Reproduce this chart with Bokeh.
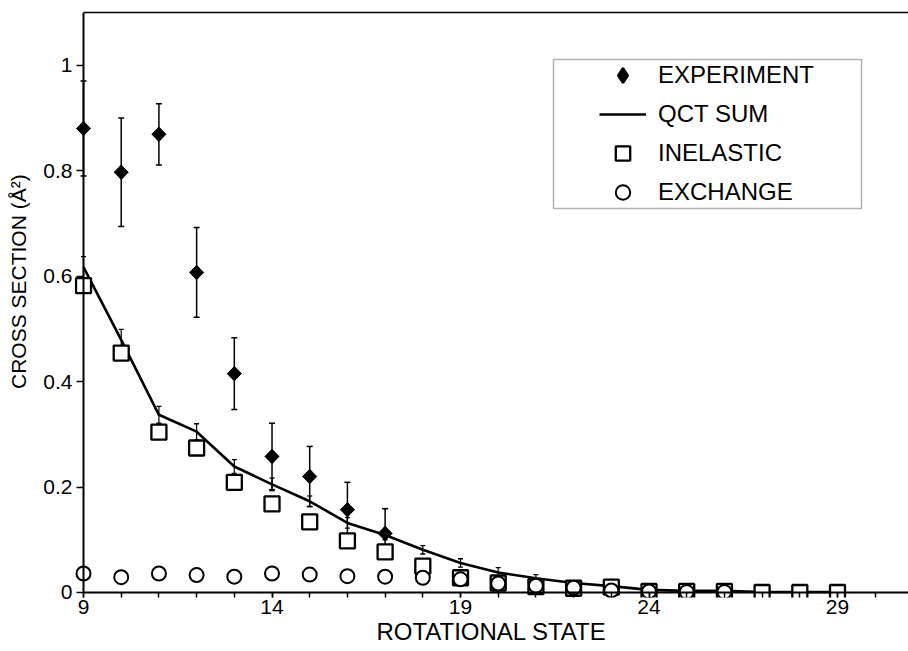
import numpy as np
from bokeh.plotting import figure
from bokeh.models import (ColumnDataSource, Whisker, TeeHead, FixedTicker, LinearAxis,
                          Legend, LegendItem, BoxAnnotation, Range1d, CustomJSTickFormatter)
from bokeh.embed import file_html
from bokeh.resources import INLINE

# ---------------- data ----------------
exp_state = [9, 10, 11, 12, 13, 14, 15, 16, 17]
exp_value = [0.880, 0.797, 0.869, 0.607, 0.415, 0.258, 0.220, 0.157, 0.112]
exp_err = [0.090, 0.103, 0.058, 0.085, 0.068, 0.063, 0.057, 0.052, 0.047]

qct_state = [9, 10, 11, 12, 13, 14, 15, 16, 17, 18, 19, 20, 21, 22, 23, 24, 25, 26, 27, 28, 29]
qct_sum = [0.617, 0.479, 0.337, 0.305, 0.239, 0.205, 0.173, 0.132, 0.109, 0.081, 0.056,
           0.038, 0.027, 0.018, 0.012, 0.005, 0.003, 0.003, 0.001, 0.001, 0.001]
qct_err_state = [9, 10, 11, 12, 13, 14, 15, 16, 17, 18, 19, 20, 21]
qct_err = [0.020, 0.020, 0.016, 0.015, 0.013, 0.012, 0.010, 0.010, 0.009, 0.008, 0.008, 0.009, 0.007]

inel_state = [9, 10, 11, 12, 13, 14, 15, 16, 17, 18, 19, 20, 21, 22, 23, 24, 25, 26, 27, 28, 29]
inelastic = [0.582, 0.454, 0.304, 0.274, 0.209, 0.168, 0.134, 0.098, 0.077, 0.050, 0.028,
             0.018, 0.011, 0.008, 0.010, 0.002, 0.002, 0.002, 0.000, 0.000, 0.000]

exch_state = [9, 10, 11, 12, 13, 14, 15, 16, 17, 18, 19, 20, 21, 22, 23, 24, 25, 26]
exchange = [0.036, 0.029, 0.036, 0.033, 0.030, 0.036, 0.034, 0.031, 0.030, 0.028, 0.025,
            0.017, 0.013, 0.009, 0.004, 0.002, 0.001, 0.001]

x_major = [9, 14, 19, 24, 29]
x_minor = list(range(9, 31))
y_major = [0, 0.2, 0.4, 0.6, 0.8, 1.0]

x_title = "ROTATIONAL STATE"
y_title = "CROSS SECTION (Å²)"

FONT = "Liberation Sans"

# ---------------- figure ----------------
p = figure(width=908, height=651, output_backend="svg", toolbar_location=None,
           x_range=Range1d(8.761, 30.883), y_range=Range1d(-0.0095, 1.1),
           min_border_left=74, min_border_right=0, min_border_top=12, min_border_bottom=54,
           background_fill_color="white", border_fill_color="white")
p.outline_line_color = None
p.xgrid.visible = False
p.ygrid.visible = False

blank = CustomJSTickFormatter(code="return ''")

# bottom axis: labels + title only (frame edge)
xa = p.xaxis[0]
xa.ticker = FixedTicker(ticks=x_major, minor_ticks=[])
xa.axis_line_color = None
xa.major_tick_line_color = None
xa.minor_tick_line_color = None
xa.major_tick_out = 0
xa.major_tick_in = 0
xa.minor_tick_out = 0
xa.minor_tick_in = 0
xa.major_label_standoff = 2
xa.major_label_text_font = FONT
xa.major_label_text_font_size = "21px"
xa.major_label_text_color = "black"
xa.axis_label = x_title
xa.axis_label_standoff = 1
xa.axis_label_text_font = FONT
xa.axis_label_text_font_size = "24px"
xa.axis_label_text_font_style = "normal"
xa.axis_label_text_color = "black"

# left axis: labels + title only (frame edge)
ya = p.yaxis[0]
ya.ticker = FixedTicker(ticks=y_major, minor_ticks=[])
ya.formatter = CustomJSTickFormatter(code="return tick.toFixed(1).replace(/\\.0$/, '')")
ya.axis_line_color = None
ya.major_tick_line_color = None
ya.minor_tick_line_color = None
ya.major_tick_out = 0
ya.major_tick_in = 0
ya.minor_tick_out = 0
ya.minor_tick_in = 0
ya.major_label_standoff = 2
ya.major_label_text_font = FONT
ya.major_label_text_font_size = "21px"
ya.major_label_text_color = "black"
ya.axis_label = "\u00a0" * 8 + y_title
ya.axis_label_standoff = 10
ya.axis_label_text_font = FONT
ya.axis_label_text_font_size = "21px"
ya.axis_label_text_font_style = "normal"
ya.axis_label_text_color = "black"

# axis lines + ticks crossing at (9, 0)
x_line = LinearAxis(ticker=FixedTicker(ticks=x_major, minor_ticks=x_minor), fixed_location=0,
                    bounds=(9, 31), axis_line_width=2, axis_line_color="black",
                    major_tick_in=7, major_tick_out=0, minor_tick_in=7, minor_tick_out=0,
                    major_tick_line_width=1.5, minor_tick_line_width=1.5,
                    major_tick_line_color="black", minor_tick_line_color="black",
                    formatter=blank, major_label_text_font_size="10px", major_label_standoff=0)
p.add_layout(x_line, "above")

y_line = LinearAxis(ticker=FixedTicker(ticks=y_major, minor_ticks=[]), fixed_location=9,
                    bounds=(0, 1.1), axis_line_width=2, axis_line_color="black",
                    major_tick_in=7, major_tick_out=0, minor_tick_in=0, minor_tick_out=0,
                    major_tick_line_width=1.5, major_tick_line_color="black",
                    formatter=blank, major_label_text_font_size="10px", major_label_standoff=0)
p.add_layout(y_line, "right")

# top frame line
top = LinearAxis(ticker=FixedTicker(ticks=[], minor_ticks=[]), bounds=(9, 31),
                 axis_line_width=1.5, axis_line_color="black",
                 major_tick_out=0, major_tick_in=0, minor_tick_out=0, minor_tick_in=0,
                 major_tick_line_color=None, minor_tick_line_color=None,
                 formatter=blank, major_label_text_font_size="10px", major_label_standoff=0)
p.add_layout(top, "above")

# ---------------- error bars ----------------
exp_src = ColumnDataSource(dict(x=exp_state, y=exp_value,
                                upper=[v + e for v, e in zip(exp_value, exp_err)],
                                lower=[v - e for v, e in zip(exp_value, exp_err)]))
qct_lookup = dict(zip(qct_state, qct_sum))
qct_err_src = ColumnDataSource(dict(x=qct_err_state,
                                    upper=[qct_lookup[s] + e for s, e in zip(qct_err_state, qct_err)],
                                    lower=[qct_lookup[s] - e for s, e in zip(qct_err_state, qct_err)]))

w1 = Whisker(source=exp_src, base="x", upper="upper", lower="lower", dimension="height",
             line_color="black", line_width=1.5, level="underlay",
             upper_head=TeeHead(size=6, line_width=1.5, line_color="black"),
             lower_head=TeeHead(size=6, line_width=1.5, line_color="black"))
w2 = Whisker(source=qct_err_src, base="x", upper="upper", lower="lower", dimension="height",
             line_color="black", line_width=1.2, level="underlay",
             upper_head=TeeHead(size=5, line_width=1.3, line_color="black"),
             lower_head=TeeHead(size=5, line_width=1.3, line_color="black"))
p.add_layout(w1)
p.add_layout(w2)

# ---------------- glyphs ----------------
r_line = p.line(qct_state, qct_sum, line_color="black", line_width=2.6)
r_sq = p.scatter(inel_state, inelastic, marker="square", size=15, fill_color="white",
                 line_color="black", line_width=2.3)
r_ci = p.scatter(exch_state, exchange, marker="circle", size=14, fill_color="white",
                 line_color="black", line_width=2)
# experiment: a diamond (used by the legend) with a rotated square on top to widen it
r_di_leg = p.scatter(exp_state, exp_value, marker="diamond", size=12, fill_color="black",
                     line_color="black", line_width=2.5)
r_di = p.scatter(exp_state, exp_value, marker="square", angle=np.pi / 4, size=10,
                 fill_color="black", line_color="black", line_width=1)

# ---------------- legend ----------------
box = BoxAnnotation(left=479, right=787, top=538, bottom=389,
                    left_units="screen", right_units="screen", top_units="screen", bottom_units="screen",
                    fill_alpha=0, line_color="black", line_width=1.5)
p.add_layout(box)

legend = Legend(items=[LegendItem(label="EXPERIMENT", renderers=[r_di_leg]),
                       LegendItem(label="QCT SUM", renderers=[r_line]),
                       LegendItem(label="INELASTIC", renderers=[r_sq]),
                       LegendItem(label="EXCHANGE", renderers=[r_ci])],
                location=(525, 387), padding=0, margin=0, spacing=3,
                glyph_width=47, glyph_height=36, label_height=36, label_standoff=12,
                label_text_font=FONT, label_text_font_size="24px", label_text_color="black",
                border_line_alpha=0, background_fill_alpha=0)
p.add_layout(legend, "center")

open("out.html", "w").write(file_html(p, INLINE))
